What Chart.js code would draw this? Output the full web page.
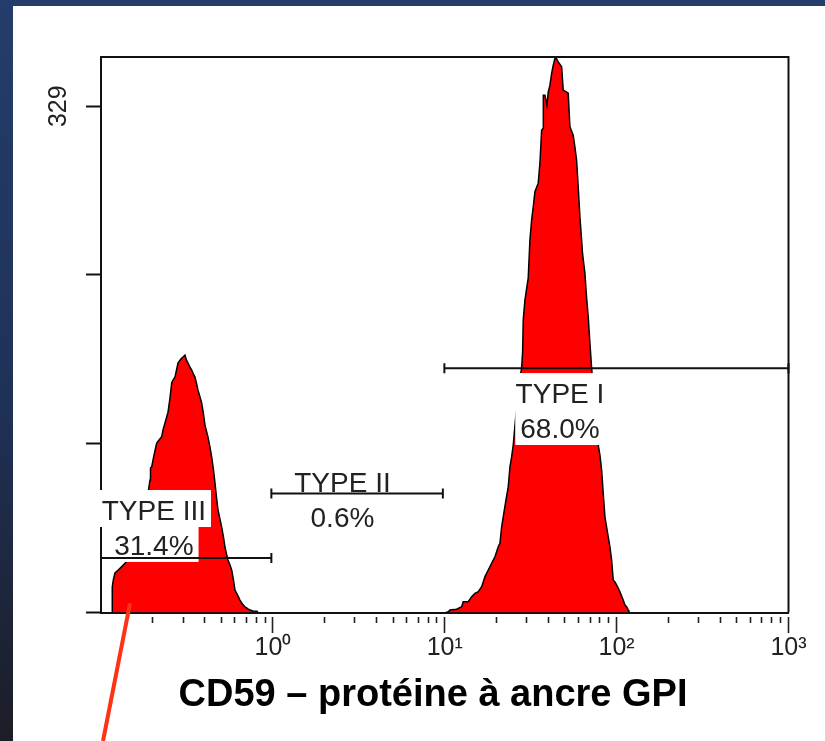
<!DOCTYPE html>
<html>
<head>
<meta charset="utf-8">
<script src="https://cdn.jsdelivr.net/npm/chart.js@4.4.1/dist/chart.umd.min.js"></script>
<style>
html,body{margin:0;padding:0;background:#1f2a44;overflow:hidden}
canvas{display:block}
</style>
</head>
<body>
<canvas id="c" width="825" height="741"></canvas>
<script>
// ---- data ----
const lowPeakX = [0.1159,0.1163,0.1179,0.1206,0.1260,0.1320,0.1379,0.1436,0.1536,0.1641,0.1755,0.1852,0.1928,0.1941,0.1972,0.2034,0.2109,0.2175,0.2255,0.2295,0.2357,0.2454,0.2520,0.2578,0.2623,0.2694,0.2749,0.2805,0.2881,0.2948,0.2999,0.3081,0.3143,0.3207,0.3294,0.3370,0.3452,0.3522,0.3594,0.3667,0.3767,0.3854,0.3948,0.4027,0.4109,0.4193,0.4306,0.4406,0.4514,0.4605,0.4698,0.4793,0.4923,0.5036,0.5159,0.5264,0.5371,0.5480,0.5629,0.5759,0.5900,0.6019,0.6225,0.6437,0.6656,0.6884,0.7166,0.7361,0.7662,0.8083,0.8192];
const lowPeakY = [0,16.6,21.1,25.7,27.6,29.8,32.0,34.1,39.3,47.1,58.8,73.1,86.1,93.9,94.7,102.3,110.1,112.1,114.2,118.6,123.1,130.2,139.3,149.1,151.0,153.0,157.5,162.1,164.0,165.3,166.0,167.3,164.0,162.1,159.5,157.5,154.9,153.0,149.1,144.5,140.0,136.1,128.9,121.8,117.9,114.0,107.5,101.0,92.6,84.1,75.0,66.6,60.7,55.5,49.0,42.5,38.0,34.1,30.9,27.6,21.1,14.6,11.4,8.1,5.5,3.6,2.3,1.6,1.0,0.8,0];
const highPeakX = [10.16,10.48,10.72,11.73,12.54,12.81,13.70,14.34,14.99,15.67,16.40,17.14,17.91,18.74,19.59,20.48,20.95,21.43,21.89,22.70,23.41,23.95,24.50,25.03,25.78,26.66,27.56,28.01,28.39,28.62,29.27,30.59,31.30,32.02,32.72,33.47,34.98,35.79,36.61,37.41,37.45,38.27,39.31,40.00,40.93,41.87,42.78,43.76,44.65,45.74,47.87,48.91,50.70,52.29,53.48,55.89,57.18,58.50,59.77,61.15,62.56,63.30,65.39,66.90,68.35,69.92,71.53,73.28,75.28,77.32,78.16,79.96,81.80,83.57,85.50,89.37,91.43,93.52,95.55,97.75,100.0,104.5,109.2,111.8,114.3,116.8,117.9];
const highPeakY = [0,0.5,1.6,2.1,3.8,7.0,7.0,10.3,12.5,13.5,16.8,23.3,27.6,32.0,36.2,42.7,45.0,55.7,62.2,73.1,81.7,94.7,101.2,108.8,125.0,141.3,154.3,158.8,169.4,190.0,203.0,217.3,242.0,255.0,263.6,273.4,279.0,292.0,313.4,314.7,336.2,336.2,329.7,338.1,342.7,350.3,355.7,360.0,360.0,357.8,354.6,339.4,338.5,337.5,315.6,310.2,302.6,293.9,276.6,257.1,242.0,233.5,220.5,204.3,192.2,175.1,158.8,144.5,128.3,112.1,108.8,102.3,92.6,77.4,62.2,49.2,42.7,34.1,21.1,19.8,17.9,13.5,8.1,4.9,3.8,1.6,0];

const gateNames    = ['TYPE III', 'TYPE II', 'TYPE I'];
const gatePercents = [31.4, 0.6, 68.0];
const gateStart    = [0.1, 0.98, 9.95];
const gateEnd      = [0.98, 9.75, 1000];
const gateLevel    = [35.4, 77.4, 158.8];

const xMajorTicks = [1, 10, 100, 1000];
const xTickLabels = ['10\u2070', '10\u00B9', '10\u00B2', '10\u00B3'];
const yTickValues = [0, 109.67, 219.33, 329];
const yTickLabels = ['', '', '', '329'];
const xAxisTitle  = 'CD59 \u2013 prot\u00e9ine \u00e0 ancre GPI';

// ---- rendering ----
const SANS = '"Liberation Sans", Arial, sans-serif';

const pts = (xs, ys) => xs.map((x, i) => ({x: x, y: ys[i]}));

const panelPlugin = {
  id: 'panel',
  beforeDraw(chart) {
    const {ctx, width, height} = chart;
    const g = ctx.createLinearGradient(0, 0, 0, height);
    g.addColorStop(0, '#243d6c');
    g.addColorStop(0.55, '#1f3157');
    g.addColorStop(1, '#1c1d26');
    ctx.save();
    ctx.fillStyle = g;
    ctx.fillRect(0, 0, width, height);
    ctx.fillStyle = '#ffffff';
    ctx.fillRect(13, 6, width - 13, height - 6);
    ctx.restore();
  },
  afterDatasetsDraw(chart, args, opts) {
    const {ctx, chartArea: a, scales: {x, y}} = chart;
    ctx.save();
    // frame top/right
    ctx.strokeStyle = '#111';
    ctx.lineWidth = 2;
    ctx.beginPath();
    ctx.moveTo(a.left, a.top);
    ctx.lineTo(a.right, a.top);
    ctx.lineTo(a.right, a.bottom);
    ctx.stroke();

    ctx.font = '28px ' + SANS;
    const items = [];
    gateNames.forEach((name, i) => {
      const anc = opts.labels[i];
      const cx = x.getPixelForValue(anc.x);
      items.push({text: name, cx: cx, by: y.getPixelForValue(anc.nameY)});
      items.push({text: gatePercents[i].toFixed(1) + '%', cx: cx, by: y.getPixelForValue(anc.pctY)});
    });
    ctx.fillStyle = '#ffffff';
    items.forEach(it => {
      const w = ctx.measureText(it.text).width;
      ctx.fillRect(it.cx - w / 2 - 5, it.by - 30, w + 10, 37);
    });
    // gates
    ctx.strokeStyle = '#111';
    ctx.lineWidth = 2;
    gateNames.forEach((n, i) => {
      const x1 = x.getPixelForValue(gateStart[i]);
      const x2 = x.getPixelForValue(gateEnd[i]);
      const yy = y.getPixelForValue(gateLevel[i]);
      ctx.beginPath();
      ctx.moveTo(x1, yy); ctx.lineTo(x2, yy);
      ctx.moveTo(x1, yy - 5); ctx.lineTo(x1, yy + 5);
      ctx.moveTo(x2, yy - 5); ctx.lineTo(x2, yy + 5);
      ctx.stroke();
    });
    ctx.fillStyle = '#222';
    ctx.textAlign = 'center';
    ctx.textBaseline = 'alphabetic';
    items.forEach(it => ctx.fillText(it.text, it.cx, it.by));
    ctx.restore();
  },
  afterDraw(chart, args, opts) {
    const {ctx, height, scales: {x, y}} = chart;
    const px = x.getPixelForValue(opts.pointer.x);
    const py = y.getPixelForValue(opts.pointer.y);
    ctx.save();
    ctx.strokeStyle = '#ff3214';
    ctx.lineWidth = 4;
    ctx.beginPath();
    ctx.moveTo(px, py);
    ctx.lineTo(px - (height - py) * 0.196, height);
    ctx.stroke();
    ctx.restore();
  }
};

const isMajorVal = v => xMajorTicks.some(m => Math.abs(v - m) / m < 1e-6);

new Chart(document.getElementById('c'), {
  type: 'line',
  data: {
    datasets: [
      {label: 'low', data: pts(lowPeakX, lowPeakY), borderColor: '#000', borderWidth: 1.5,
       backgroundColor: '#ff0000', fill: 'origin', pointRadius: 0, tension: 0},
      {label: 'high', data: pts(highPeakX, highPeakY), borderColor: '#000', borderWidth: 1.5,
       backgroundColor: '#ff0000', fill: 'origin', pointRadius: 0, tension: 0}
    ]
  },
  options: {
    responsive: false,
    animation: false,
    devicePixelRatio: 1,
    layout: {padding: {left: 47.5, right: 6.5, top: 57, bottom: 0}},
    plugins: {
      legend: {display: false},
      tooltip: {enabled: false},
      title: {
        display: true, text: xAxisTitle, position: 'bottom', color: '#000',
        font: {family: SANS, size: 38, weight: 'bold', lineHeight: 1.2},
        padding: {top: 1.8, bottom: 22.2}
      },
      panel: {
        labels: [
          {x: 0.203, nameY: 60.1, pctY: 37.4},
          {x: 2.54, nameY: 78.3, pctY: 55.5},
          {x: 46.8, nameY: 136.1, pctY: 113.4}
        ],
        pointer: {x: 0.1475, y: 6}
      }
    },
    scales: {
      x: {
        type: 'logarithmic', min: 0.1, max: 1000, position: 'bottom',
        afterBuildTicks: s => {
          const t = [];
          for (let e = -1; e <= 2; e++) for (let k = 1; k <= 9; k++) t.push({value: k * Math.pow(10, e)});
          t.push({value: 1000});
          s.ticks = t;
        },
        afterFit: s => { s.height = 58.9; },
        border: {display: true, width: 2, color: '#111'},
        grid: {
          drawOnChartArea: false, drawTicks: true, tickLength: 21,
          tickColor: '#222',
          tickWidth: c => (c.tick && c.tick.value < 0.15) ? 0 : 1.6,
          tickBorderDash: c => (c.tick && isMajorVal(c.tick.value)) ? [0, 3, 16, 40] : [0, 3, 6, 40]
        },
        ticks: {
          autoSkip: false, minRotation: 0, maxRotation: 0, padding: 0,
          color: '#222', font: {family: SANS, size: 25},
          callback: v => { const i = xMajorTicks.findIndex(m => Math.abs(v - m) / m < 1e-6); return i >= 0 ? xTickLabels[i] : ''; }
        }
      },
      y: {
        type: 'linear', min: 0, max: 361, position: 'left',
        afterBuildTicks: s => { s.ticks = yTickValues.map(v => ({value: v})); },
        afterFit: s => { s.width = 53.5; },
        border: {display: true, width: 2, color: '#111'},
        grid: {drawOnChartArea: false, drawTicks: true, tickLength: 15, tickWidth: 2, tickColor: '#111'},
        ticks: {
          autoSkip: false, minRotation: 90, maxRotation: 90, crossAlign: 'center', padding: 6,
          color: '#222', font: {family: SANS, size: 25},
          callback: (v, i) => yTickLabels[i]
        }
      },
      yRight: {
        type: 'linear', position: 'right', display: true,
        afterFit: s => { s.width = 30; },
        border: {display: false},
        grid: {display: false, drawTicks: false},
        ticks: {display: false}
      }
    }
  },
  plugins: [panelPlugin]
});
</script>
</body>
</html>
